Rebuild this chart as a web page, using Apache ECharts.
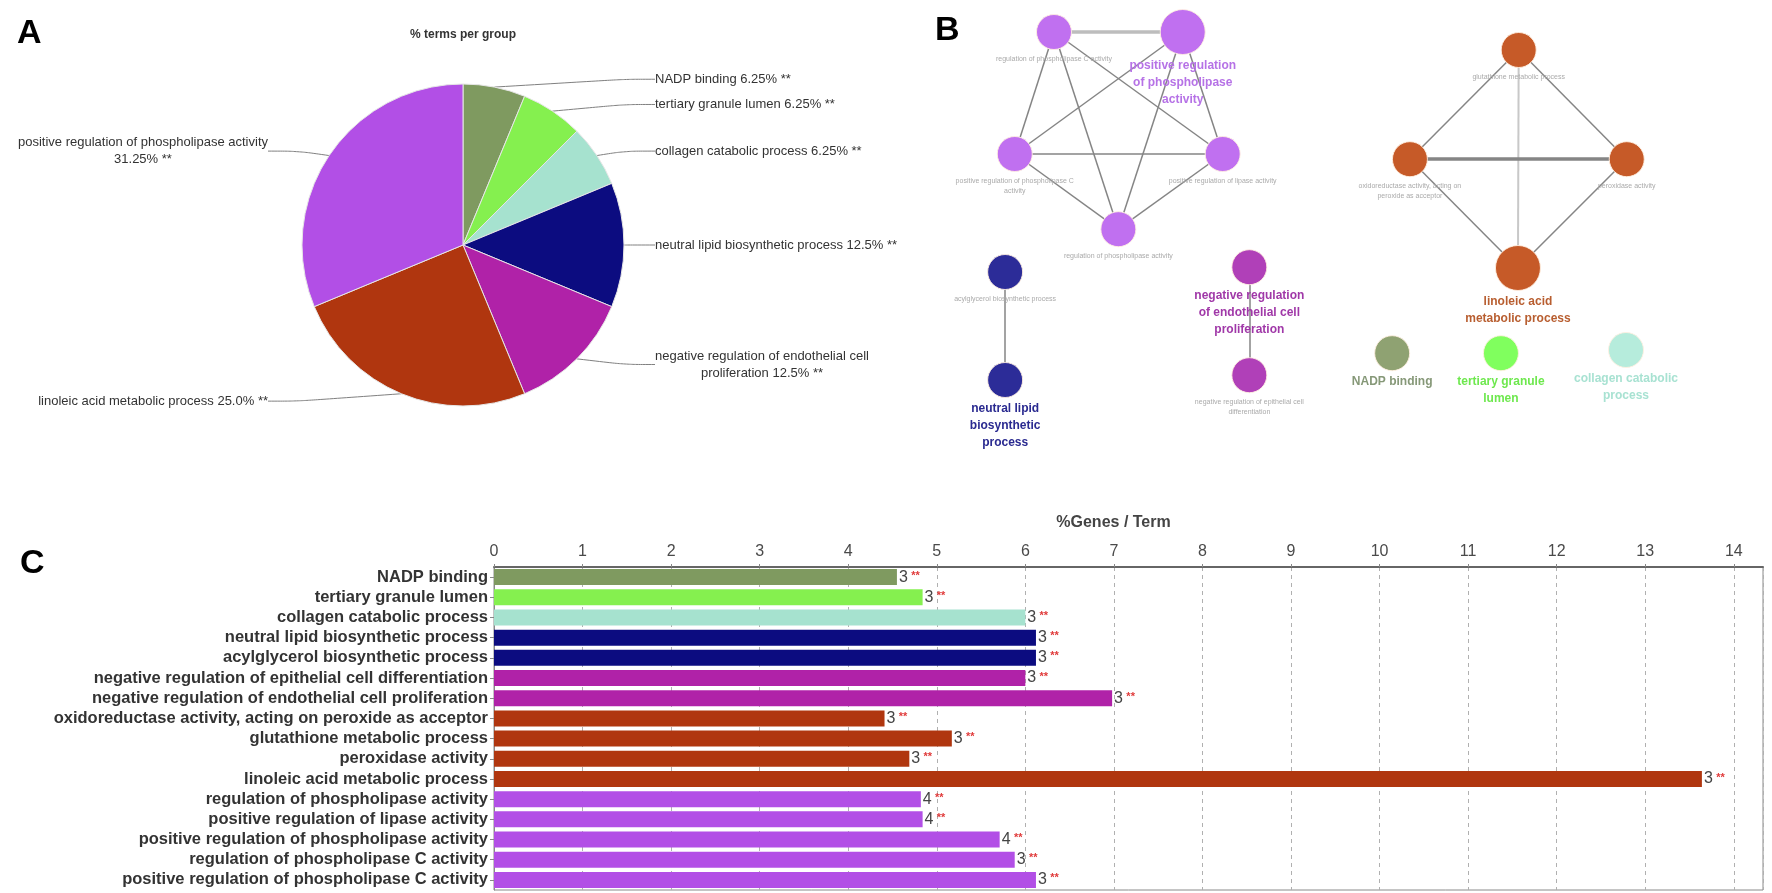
<!DOCTYPE html>
<html><head><meta charset="utf-8">
<script src="https://cdn.jsdelivr.net/npm/echarts@6/dist/echarts.min.js"></script>
<style>html,body{margin:0;padding:0;background:#fff}#main{width:1772px;height:893px}</style>
</head><body><div id="main"></div>
<script>
// ---------- Panel A : % terms per group ----------
const pieNames = ['NADP binding', 'tertiary granule lumen', 'collagen catabolic process',
  'neutral lipid biosynthetic process', 'negative regulation of endothelial cell proliferation',
  'linoleic acid metabolic process', 'positive regulation of phospholipase activity'];
const pieValues = [6.25, 6.25, 6.25, 12.5, 12.5, 25.0, 31.25];

// ---------- Panel C : %Genes / Term ----------
const barCategories = ['NADP binding', 'tertiary granule lumen', 'collagen catabolic process',
  'neutral lipid biosynthetic process', 'acylglycerol biosynthetic process',
  'negative regulation of epithelial cell differentiation',
  'negative regulation of endothelial cell proliferation',
  'oxidoreductase activity, acting on peroxide as acceptor', 'glutathione metabolic process',
  'peroxidase activity', 'linoleic acid metabolic process', 'regulation of phospholipase activity',
  'positive regulation of lipase activity', 'positive regulation of phospholipase activity',
  'regulation of phospholipase C activity', 'positive regulation of phospholipase C activity'];
const barValues = [4.55, 4.84, 6.0, 6.12, 6.12, 6.0, 6.98, 4.41, 5.17, 4.69, 13.64, 4.82, 4.84, 5.71, 5.88, 6.12];
const barGeneCounts = [3, 3, 3, 3, 3, 3, 3, 3, 3, 3, 3, 4, 4, 4, 3, 3];
const barGroup = [0, 1, 2, 3, 3, 4, 4, 5, 5, 5, 5, 6, 6, 6, 6, 6];
const xTickLabels = ['0','1','2','3','4','5','6','7','8','9','10','11','12','13','14'];

// ---------- Panel B : network ----------
const nodeNames = ['regulation of phospholipase C activity', 'positive regulation of phospholipase activity',
  'positive regulation of phospholipase C activity', 'positive regulation of lipase activity',
  'regulation of phospholipase activity', 'acylglycerol biosynthetic process',
  'neutral lipid biosynthetic process', 'negative regulation of endothelial cell proliferation',
  'negative regulation of epithelial cell differentiation', 'glutathione metabolic process',
  'oxidoreductase activity, acting on peroxide as acceptor', 'peroxidase activity',
  'linoleic acid metabolic process', 'NADP binding', 'tertiary granule lumen', 'collagen catabolic process'];
const nodeX = [12.7, 30.1, 7.4, 35.5, 21.4, 6.1, 6.1, 39.1, 39.1, 75.5, 60.8, 90.1, 75.4, 58.4, 73.1, 90.0];
const nodeY = [5.5, 5.5, 36.0, 36.0, 54.8, 65.5, 92.5, 64.3, 91.3, 10.0, 37.3, 37.3, 64.5, 85.8, 85.8, 85.0];
const nodeGroup = [6, 6, 6, 6, 6, 3, 3, 4, 4, 5, 5, 5, 5, 0, 1, 2];
const nodeIsLeader = [0, 1, 0, 0, 0, 0, 1, 1, 0, 0, 0, 0, 1, 1, 1, 1];
const linkPairs = [[0,1],[0,2],[0,3],[0,4],[1,2],[1,3],[1,4],[2,3],[2,4],[3,4],[5,6],[7,8],[9,10],[9,11],[9,12],[10,11],[10,12],[11,12]];
const linkKappa = [0.9, 0.5, 0.5, 0.5, 0.5, 0.5, 0.5, 0.6, 0.5, 0.5, 0.5, 0.5, 0.5, 0.5, 0.3, 0.8, 0.5, 0.5];

// ---------- styles ----------
const groupColors = ['#7f9a60', '#85f04f', '#a6e2cf', '#0c0c80', '#b022a8', '#b0360f', '#b24fe6'];
const nodeColors = ['#8fa272', '#80ff5e', '#b6ecdc', '#2c2c98', '#b040b8', '#c65a28', '#c070f0'];
const nodeLabelColors = ['#869878', '#6ee84e', '#a8e2d2', '#2a2a90', '#a038a8', '#b85e30', '#b672e6'];
const bigNodes = new Set([1, 12]);
const FONT = 'Liberation Sans, Arial, sans-serif';
const PIE_CX = 463, PIE_CY = 245;

function wrapWords(text, maxChars) {
  const words = text.split(' ');
  const lines = [];
  let cur = '';
  words.forEach(w => {
    if (cur && (cur + ' ' + w).length > maxChars) { lines.push(cur); cur = w; }
    else cur = cur ? cur + ' ' + w : w;
  });
  if (cur) lines.push(cur);
  return lines;
}
function fmtPct(v) { return Number.isInteger(v) ? v.toFixed(1) : String(v); }

const chart = echarts.init(document.getElementById('main'), null, {renderer: 'canvas'});

const option = {
  animation: false,
  backgroundColor: '#ffffff',
  textStyle: {fontFamily: FONT},
  graphic: [
    {type: 'text', left: 17, top: 17, style: {text: 'A', font: 'bold 34px ' + FONT, fill: '#000'}},
    {type: 'text', left: 935, top: 14, style: {text: 'B', font: 'bold 34px ' + FONT, fill: '#000'}},
    {type: 'text', left: 20, top: 547, style: {text: 'C', font: 'bold 34px ' + FONT, fill: '#000'}},
    {type: 'text', x: 463, y: 35, style: {text: '% terms per group', font: 'bold 12px ' + FONT, fill: '#333', align: 'center', verticalAlign: 'middle'}}
  ],
  grid: [
    {left: 494, top: 567, width: 1269, height: 323, show: true, borderColor: '#8a8a8a', borderWidth: 1, backgroundColor: 'transparent'},
    {left: 960, top: 10, width: 740, height: 400, show: false}
  ],
  xAxis: [
    {
      gridIndex: 0, type: 'value', position: 'top', min: 0, max: 14.33, interval: 1,
      name: '%Genes / Term', nameLocation: 'middle', nameGap: 36,
      nameTextStyle: {fontWeight: 'bold', fontSize: 16, color: '#444', fontFamily: FONT, padding: [0, 30, 0, 0]},
      axisLine: {show: true, lineStyle: {color: '#666', width: 2}},
      axisTick: {show: true, length: 3, lineStyle: {color: '#888'}},
      axisLabel: {show: true, fontSize: 16, color: '#4a4a4a', margin: 7, fontFamily: FONT,
        showMaxLabel: false,
        formatter: v => (Number.isInteger(v) ? xTickLabels[v] : '')},
      splitLine: {show: true, lineStyle: {type: [4, 4], color: '#b0b0b0', width: 1}}
    },
    {gridIndex: 1, type: 'value', min: 0, max: 100, show: false}
  ],
  yAxis: [
    {
      gridIndex: 0, type: 'category', inverse: true, data: barCategories,
      axisLine: {show: true, lineStyle: {color: '#888', width: 1}},
      axisTick: {show: true, alignWithLabel: true, interval: 0, length: 4, lineStyle: {color: '#888'}},
      axisLabel: {interval: 0, fontSize: 16.5, fontWeight: 'bold', color: '#333', margin: 6, fontFamily: FONT},
      splitLine: {show: false}
    },
    {gridIndex: 1, type: 'value', min: 0, max: 100, inverse: true, show: false}
  ],
  series: [
    {
      type: 'pie', center: [PIE_CX, PIE_CY], radius: 161, startAngle: 90, clockwise: true,
      silent: true, emphasis: {disabled: true}, avoidLabelOverlap: true,
      itemStyle: {borderColor: '#e6e6e6', borderWidth: 1},
      data: pieNames.map((n, i) => ({name: n, value: pieValues[i], itemStyle: {color: groupColors[i]}})),
      label: {
        show: true, position: 'outside', alignTo: 'none',
        formatter: p => wrapWords(p.name + ' ' + fmtPct(p.value) + '% **', 45).map(l => '{c|' + l + '}').join('\n'),
        rich: {c: {align: 'center', fontSize: 13, color: '#333', lineHeight: 17, fontFamily: FONT}}
      },
      labelLine: {show: true, length: 8, length2: 30, smooth: 0.3, lineStyle: {color: '#808080', width: 1}},
      labelLayout: function (params) {
        const r = params.labelRect;
        const right = (r.x + r.width / 2) > PIE_CX;
        return {
          x: right ? 655 : 268,
          y: r.y + r.height / 2,
          align: right ? 'left' : 'right',
          verticalAlign: 'middle'
        };
      }
    },
    {
      type: 'bar', xAxisIndex: 0, yAxisIndex: 0, barWidth: 16, silent: true,
      data: barValues.map((v, i) => ({value: v, itemStyle: {color: groupColors[barGroup[i]]}})),
      label: {
        show: true, position: 'right', distance: 2,
        formatter: p => '{n|' + barGeneCounts[p.dataIndex] + '} {s|**}',
        rich: {
          n: {fontSize: 16, color: '#444', fontFamily: FONT},
          s: {fontSize: 11, color: '#e03a3a', fontWeight: 'bold', fontFamily: FONT, padding: [0, 0, 3, 0]}
        }
      }
    },
    {
      type: 'graph', coordinateSystem: 'cartesian2d', xAxisIndex: 1, yAxisIndex: 1,
      silent: true, emphasis: {disabled: true}, z: 3,
      data: nodeNames.map((n, i) => {
        const g = nodeGroup[i];
        const leader = nodeIsLeader[i] === 1;
        return {
          name: n, value: [nodeX[i], nodeY[i]],
          symbol: 'circle', symbolSize: bigNodes.has(i) ? 45 : 35,
          itemStyle: {color: nodeColors[g], borderColor: 'rgba(255,240,225,0.9)', borderWidth: 1},
          label: leader ? {
            show: true, position: 'bottom', distance: 2,
            formatter: wrapWords(n, 19).join('\n'),
            fontSize: 12, fontWeight: 'bold', lineHeight: 17, color: nodeLabelColors[g], fontFamily: FONT, align: 'center'
          } : {
            show: true, position: 'bottom', distance: 4,
            formatter: wrapWords(n, 38).join('\n'),
            fontSize: 7, lineHeight: 10, color: '#aaaaaa', fontFamily: FONT, align: 'center'
          }
        };
      }),
      links: linkPairs.map((p, i) => ({
        source: p[0], target: p[1],
        lineStyle: {
          width: linkKappa[i] >= 0.8 ? 3.5 : (linkKappa[i] < 0.4 ? 2 : 1.5),
          color: linkKappa[i] >= 0.9 ? '#bdbdbd' : (linkKappa[i] < 0.4 ? '#c8c8c8' : '#858585')
        }
      })),
      lineStyle: {opacity: 1, curveness: 0}
    }
  ]
};
chart.setOption(option);
</script>
</body></html>
